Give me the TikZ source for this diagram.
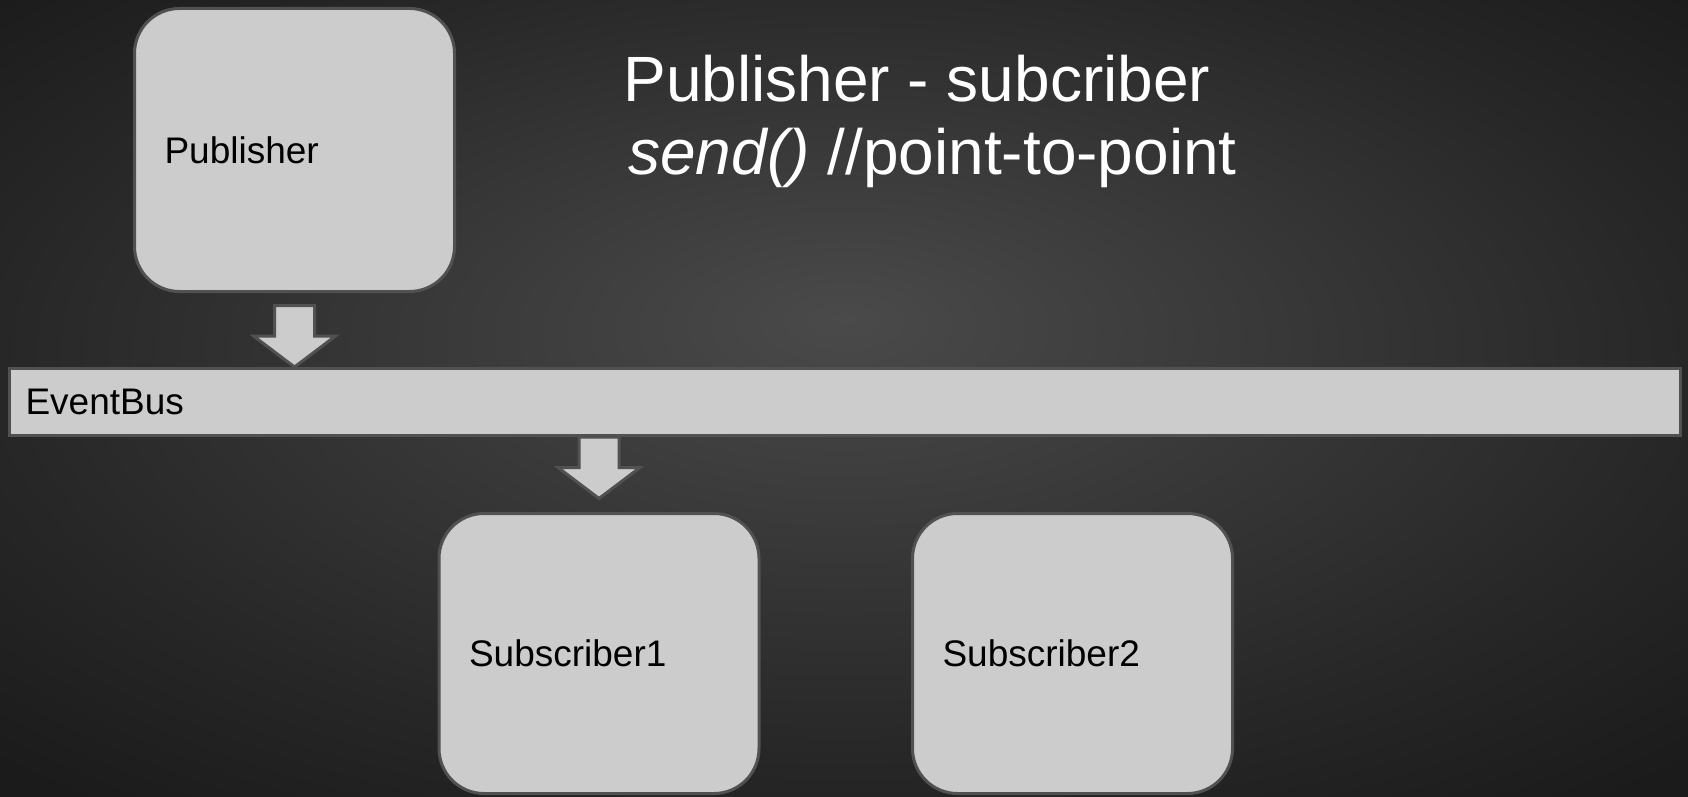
\documentclass[tikz,border=0pt]{standalone}
\usepackage{fontspec}
\setmainfont{Liberation Sans}
\usetikzlibrary{calc}

\definecolor{boxfill}{HTML}{CCCCCC}
\definecolor{boxline}{HTML}{515151}
\definecolor{bgin}{HTML}{4A4A4A}
\definecolor{bgmid}{HTML}{272727}
\definecolor{bgout}{HTML}{1B1B1B}

% dark backdrop, lighter towards the middle
\pgfdeclareradialshading{backdrop}{\pgfpoint{0bp}{5bp}}{%
  color(0bp)=(bgin); color(25bp)=(bgmid); color(35bp)=(bgout); color(50bp)=(bgout)}

\tikzset{
  labelfont/.style={font=\fontsize{18.5}{22}\selectfont},
  roundbox/.style={labelfont, draw=boxline, fill=boxfill, line width=1.5pt,
    rounded corners=22.5pt, minimum width=160pt, minimum height=141.5pt,
    inner xsep=15pt, text width=130pt, align=left, text=black},
  busbox/.style={labelfont, draw=boxline, fill=boxfill, line width=1.5pt,
    minimum width=835.5pt, minimum height=33.5pt,
    inner xsep=8pt, text width=819.5pt, align=left, text=black},
  blockarrow/.style={draw=boxline, fill=boxfill, line width=1.5pt, line join=miter},
  titletext/.style={font=\fontsize{32}{38}\selectfont, text=white, inner sep=0pt, anchor=base west}
}

% hollow block arrow from #1 (top of shaft) down to #2 (tip)
\newcommand\downblock[2]{%
  \draw[blockarrow] let \p1=#1, \p2=#2 in
    (\x1-10pt,\y1) -- (\x1+10pt,\y1) -- (\x1+10pt,\y2+15.5pt) -- (\x1+20.5pt,\y2+15.5pt)
    -- (\x1,\y2) -- (\x1-20.5pt,\y2+15.5pt) -- (\x1-10pt,\y2+15.5pt) -- cycle;}

\begin{document}
\begin{tikzpicture}[x=0.5pt, y=-0.5pt]
  \useasboundingbox (0,0) rectangle (1688,797);
  \shade[shading=backdrop] (0,0) rectangle (1688,797);

  \node[roundbox] (pub) at (294.5,150) {Publisher};
  \node[busbox] (bus) at (845,402) {EventBus};
  \node[roundbox, minimum height=140pt] (sub1) at (599,653.5) {Subscriber1};
  \node[roundbox, minimum height=140pt] (sub2) at (1072.5,653.5) {Subscriber2};

  \node[titletext] (title1) at (623,102) {Publisher - subcriber};
  \node[titletext] (title2) at (628,175) {\textit{send()} //point-to-point};

  \downblock{($(pub.south)+(0,12.5)$)}{(pub.south |- bus.north)}
  \downblock{(sub1.north |- bus.south)}{($(sub1.north)+(0,-13.5)$)}
\end{tikzpicture}
\end{document}
